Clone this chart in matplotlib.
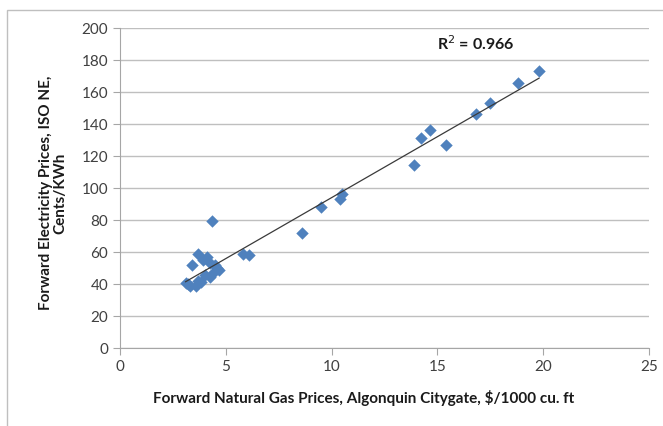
import numpy as np
import matplotlib.pyplot as plt
from matplotlib.patches import Rectangle

# gas price ($/1000 cu. ft) vs electricity price (cents/KWh)
gas = [19.8, 18.8, 17.5, 16.8, 14.65, 14.2, 15.4, 13.9,
       10.5, 10.4, 9.5, 8.6,
       4.35, 5.8, 6.1, 3.7, 3.4, 3.9, 4.25, 4.6, 4.7, 4.25, 4.0,
       3.1, 3.3, 3.6, 3.85, 4.4, 4.1, 3.2, 3.7, 4.5]
elec = [173.5, 165.5, 153.0, 146.5, 136.5, 131.0, 127.0, 114.5,
        96.5, 93.0, 88.0, 72.0,
        79.5, 59.0, 58.0, 58.5, 52.0, 55.0, 53.0, 50.0, 48.5, 44.5, 45.5,
        40.5, 39.0, 38.5, 41.0, 47.0, 57.0, 40.0, 42.0, 52.0]
r2_text = "R$^2$ = 0.966"

plt.rcParams['font.family'] = ['Lato', 'DejaVu Sans']

fig = plt.figure(figsize=(6.63, 4.26), dpi=100)
ax = fig.add_axes([0.181, 0.183, 0.798, 0.751])

# outer chart frame (only left/top visible in the reference)
fig.patches.append(Rectangle((7/663, -0.1), 1.2, 1 - 10/426 + 0.1,
                             transform=fig.transFigure, fill=False,
                             edgecolor='#BFBFBF', linewidth=1.0))

ax.scatter(gas, elec, marker='D', s=40, color='#4F81BD', zorder=3,
           linewidths=0)

slope, intercept = np.polyfit(gas, elec, 1)
xs = np.array([min(gas), max(gas)])
ax.plot(xs, slope * xs + intercept, color='#3a3a3a', linewidth=0.9, zorder=4)

ax.text(15.0, 190, r2_text, fontsize=11.5, fontweight='bold', ha='left',
        va='center', color='#1a1a1a')

ax.set_xlim(0, 25)
ax.set_ylim(0, 200)
ax.set_xticks(range(0, 26, 5))
ax.set_yticks(range(0, 201, 20))
ax.yaxis.grid(True, color='#BFBFBF', linewidth=1.0)
ax.set_axisbelow(True)

for side in ['top', 'right']:
    ax.spines[side].set_visible(False)
for side in ['left', 'bottom']:
    ax.spines[side].set_color('#A6A6A6')
ax.tick_params(axis='both', colors='#A6A6A6', labelcolor='#404040',
               labelsize=11, length=5, direction='out')

ax.set_xlabel("Forward Natural Gas Prices, Algonquin Citygate, $/1000 cu. ft",
              fontsize=11, fontweight='bold', color='#1a1a1a')
ax.xaxis.set_label_coords(0.46, -0.13)
ax.set_ylabel("Forward Electricity Prices, ISO NE,\nCents/KWh",
              fontsize=11, fontweight='bold', color='#1a1a1a', linespacing=1.05)
ax.yaxis.set_label_coords(-0.10, 0.485)

fig.savefig('out.png', dpi=100)
